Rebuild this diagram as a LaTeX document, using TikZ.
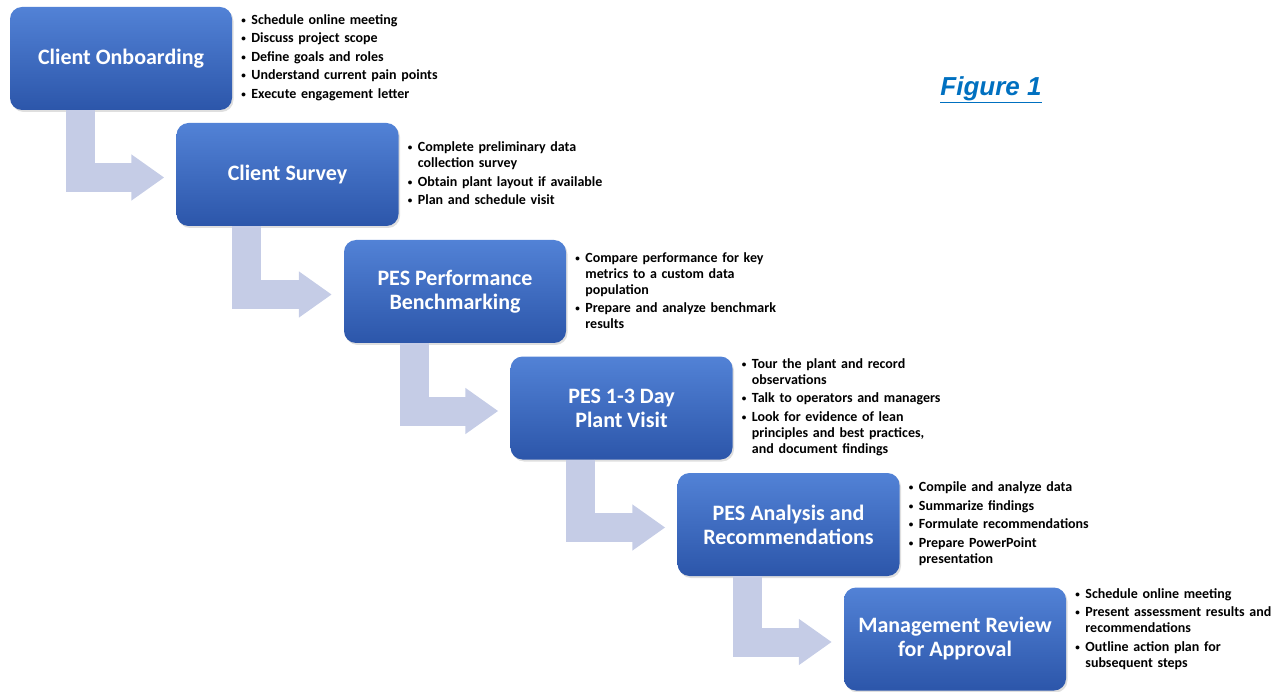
\documentclass[tikz,border=0pt]{standalone}
\usepackage{fontspec}
\setmainfont{Carlito}
\newfontfamily\figfont{Liberation Sans}
\usepackage{graphicx}
\usepackage{tikz}
\usetikzlibrary{arrows.meta}
\usetikzlibrary{positioning}
\usetikzlibrary{shadows}
\definecolor{boxtop}{RGB}{82,130,214}
\definecolor{boxbot}{RGB}{44,86,170}
\definecolor{flowc}{RGB}{197,204,230}
\definecolor{figblue}{RGB}{0,112,192}
\tikzset{box/.style = {rounded corners = 12, top color = boxtop, bottom color = boxbot,
                       minimum width = 222, minimum height = 103, inner sep = 0,
                       align = center, text = white, font = \bfseries\fontsize{22}{24}\selectfont,
                       drop shadow = {opacity = 0.25, shadow xshift = 1.5pt, shadow yshift = -2pt}}}
\tikzset{notes/.style = {anchor = west, inner sep = 0, text width = 240, align = left,
                         font = \bfseries\fontsize{14}{16}\selectfont}}
\tikzset{flow/.style = {draw = flowc, line width = 29, line join = miter,
                        -{Triangle[length = 33pt, width = 44pt]}}}
\newcommand{\bul}[1]{\hangindent=10pt\hangafter=1\noindent
  \makebox[10pt][l]{\raisebox{1pt}{\scalebox{0.65}{\textbullet}}}#1\par\vspace{2.5pt}}

\begin{document}
\begin{tikzpicture}[x = 1pt, y = 1pt]
      \useasboundingbox (0, 0) rectangle (1279, -692);
      \node [box] (box1) at (121, -58.5) {Client Onboarding};
      \node [box] (box2) at (287.5, -174.5) {Client Survey};
      \node [box] (box3) at (455, -291.5) {PES Performance\\Benchmarking};
      \node [box] (box4) at (621.5, -408) {PES 1-3 Day\\Plant Visit};
      \node [box] (box5) at (788.5, -524.5) {PES Analysis and\\Recommendations};
      \node [box] (box6) at (955, -639) {Management Review\\for Approval};
      \draw [flow] ([xshift = -41pt]box1.south) |- ([xshift = -12pt, yshift = -3pt]box2.west);
      \draw [flow] ([xshift = -41pt]box2.south) |- ([xshift = -12pt, yshift = -3pt]box3.west);
      \draw [flow] ([xshift = -41pt]box3.south) |- ([xshift = -12pt, yshift = -3pt]box4.west);
      \draw [flow] ([xshift = -41pt]box4.south) |- ([xshift = -12pt, yshift = -3pt]box5.west);
      \draw [flow] ([xshift = -41pt]box5.south) |- ([xshift = -12pt, yshift = -3pt]box6.west);
      \node [notes] (notes1) at ([xshift = 9pt, yshift = 1pt]box1.east)
            {\bul{Schedule online meeting}\bul{Discuss project scope}\bul{Define goals and roles}%
             \bul{Understand current pain points}\bul{Execute engagement letter}};
      \node [notes] (notes2) at ([xshift = 9pt, yshift = 1pt]box2.east)
            {\bul{Complete preliminary data\newline collection survey}\bul{Obtain plant layout if available}%
             \bul{Plan and schedule visit}};
      \node [notes] (notes3) at ([xshift = 9pt, yshift = 1pt]box3.east)
            {\bul{Compare performance for key\newline metrics to a custom data\newline population}%
             \bul{Prepare and analyze benchmark\newline results}};
      \node [notes] (notes4) at ([xshift = 9pt, yshift = 1pt]box4.east)
            {\bul{Tour the plant and record\newline observations}\bul{Talk to operators and managers}%
             \bul{Look for evidence of lean\newline principles and best practices,\newline and document findings}};
      \node [notes] (notes5) at ([xshift = 9pt, yshift = 1pt]box5.east)
            {\bul{Compile and analyze data}\bul{Summarize findings}\bul{Formulate recommendations}%
             \bul{Prepare PowerPoint\newline presentation}};
      \node [notes] (notes6) at ([xshift = 9pt, yshift = 10pt]box6.east)
            {\bul{Schedule online meeting}\bul{Present assessment results and\newline recommendations}%
             \bul{Outline action plan for\newline subsequent steps}};
      \node [text = figblue, font = \figfont\bfseries\itshape\fontsize{26}{30}\selectfont] (fig) at (991, -90)
            {\underline{Figure 1}};
\end{tikzpicture}
\end{document}
